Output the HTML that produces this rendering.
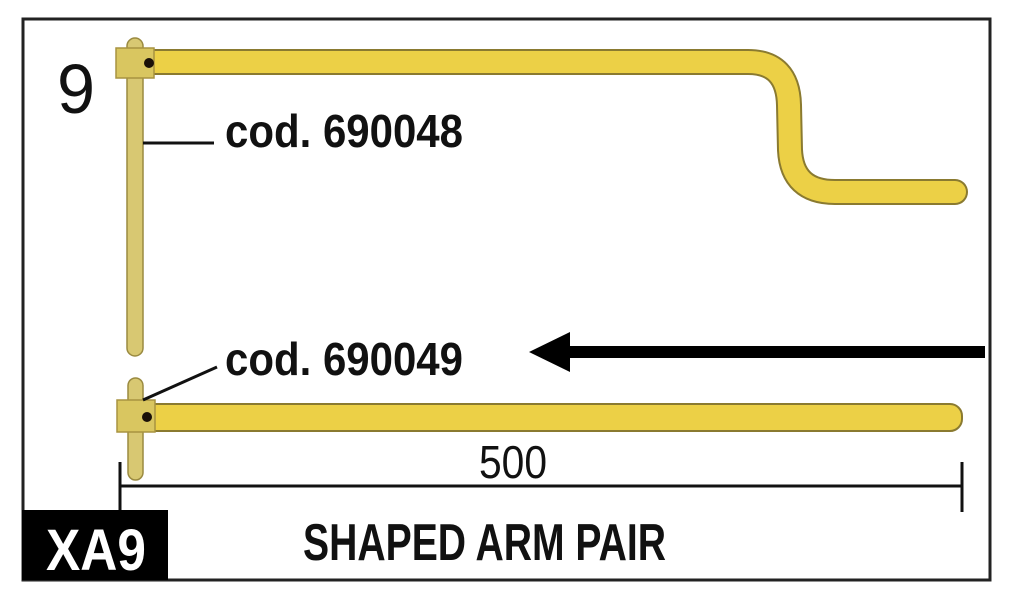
<!DOCTYPE html>
<html><head><meta charset="utf-8"><style>
html,body{margin:0;padding:0;background:#fff;}
svg{display:block;}
text{font-family:"Liberation Sans",sans-serif;}
</style></head><body>
<svg width="1014" height="609" viewBox="0 0 1014 609" xmlns="http://www.w3.org/2000/svg">
<rect x="23" y="19" width="967" height="561" fill="none" stroke="#222" stroke-width="3"/>
<!-- top arm -->
<path d="M130 62 H748 Q788 62 789 105 L790 150 Q792 192 835 192 H955" fill="none" stroke="#8a7a30" stroke-width="26" stroke-linecap="round" stroke-linejoin="round"/>
<path d="M130 62 H748 Q788 62 789 105 L790 150 Q792 192 835 192 H955" fill="none" stroke="#ecd046" stroke-width="22" stroke-linecap="round" stroke-linejoin="round"/>
<rect x="127" y="38" width="16" height="318" rx="8" fill="#d8c872" stroke="#9a8a40" stroke-width="1.5"/>
<rect x="116" y="48" width="38" height="30" fill="#d9c660" stroke="#a89340" stroke-width="1.5"/>
<circle cx="149" cy="63" r="5" fill="#1a1008"/>
<!-- bottom arm -->
<rect x="128" y="378" width="15" height="102" rx="7.5" fill="#d8c872" stroke="#9a8a40" stroke-width="1.5"/>
<rect x="130" y="404" width="832" height="27" rx="12" fill="#ecd046" stroke="#8a7a30" stroke-width="2"/>
<rect x="117" y="400" width="38" height="32" fill="#d9c660" stroke="#a89340" stroke-width="1.5"/>
<circle cx="147" cy="417" r="5" fill="#1a1008"/>
<!-- leaders -->
<line x1="143" y1="143" x2="214" y2="143" stroke="#111" stroke-width="3"/>
<line x1="143" y1="400" x2="217" y2="367" stroke="#111" stroke-width="3"/>
<!-- labels -->
<text x="57" y="113" font-size="70" fill="#111" textLength="38" lengthAdjust="spacingAndGlyphs">9</text>
<text x="225" y="147" font-size="46" font-weight="bold" fill="#111" textLength="238" lengthAdjust="spacingAndGlyphs">cod. 690048</text>
<text x="225" y="375" font-size="46" font-weight="bold" fill="#111" textLength="238" lengthAdjust="spacingAndGlyphs">cod. 690049</text>
<!-- arrow -->
<line x1="985" y1="352" x2="560" y2="352" stroke="#000" stroke-width="12"/>
<polygon points="529,352 570,332 570,372" fill="#000"/>
<!-- dimension -->
<line x1="120" y1="486" x2="962" y2="486" stroke="#111" stroke-width="3"/>
<line x1="120" y1="462" x2="120" y2="512" stroke="#111" stroke-width="3"/>
<line x1="962" y1="462" x2="962" y2="512" stroke="#111" stroke-width="3"/>
<text x="479" y="478" font-size="46" fill="#111" textLength="68" lengthAdjust="spacingAndGlyphs">500</text>
<!-- footer -->
<rect x="22" y="510" width="146" height="70" fill="#000"/>
<text x="46" y="570" font-size="58" font-weight="bold" fill="#fff" textLength="100" lengthAdjust="spacingAndGlyphs">XA9</text>
<text x="303" y="560" font-size="52" font-weight="bold" fill="#111" textLength="363" lengthAdjust="spacingAndGlyphs">SHAPED ARM PAIR</text>
</svg>
</body></html>
